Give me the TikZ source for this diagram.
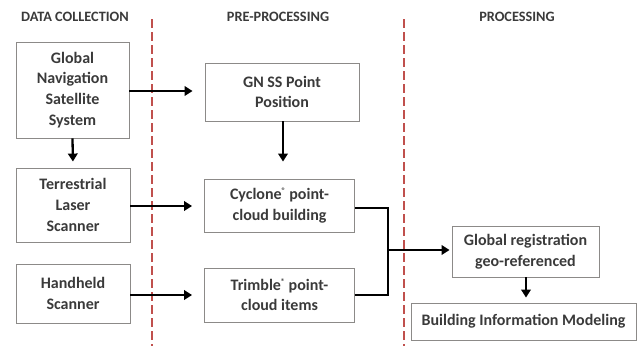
\documentclass[tikz,border=0pt]{standalone}
\usepackage{fontspec}
\setmainfont{Carlito}
\usetikzlibrary{arrows.meta}
\definecolor{txt}{HTML}{3A3A3A}
\definecolor{boxline}{HTML}{8C8A88}
\definecolor{divred}{HTML}{C0504D}
\tikzset{
  box/.style={draw=boxline, line width=0.9pt, text=txt, align=center, inner sep=2pt,
    font=\fontsize{16}{20.8}\selectfont\bfseries},
  head/.style={text=txt, font=\fontsize{14.3}{16}\selectfont\bfseries},
  flow/.style={line width=2.3pt, -{Triangle[length=8pt,width=9.5pt]}},
  link/.style={line width=2.3pt},
  divider/.style={divred, line width=1.8pt, dash pattern=on 9pt off 4pt}
}
\begin{document}
\begin{tikzpicture}[x=1pt,y=-1pt]
\useasboundingbox (0,0) rectangle (644,346);
% headers
\node[head] (h1) at (75,17) {DATA COLLECTION};
\node[head] (h2) at (278,17) {PRE-PROCESSING};
\node[head] (h3) at (517,17) {PROCESSING};
% dividers
\coordinate (d1t) at (152,19); \coordinate (d1b) at (152,346);
\coordinate (d2t) at (404,19); \coordinate (d2b) at (404,346);
\draw[divider] (d1t) -- (d1b);
\draw[divider] (d2t) -- (d2b);
% boxes
\node[box, minimum width=113pt, minimum height=96pt] (gnss) at (72.5,90) {Global\\Navigation\\Satellite\\System};
\node[box, minimum width=154pt, minimum height=58pt] (gpp) at (282,92) {GN SS Point\\Position};
\node[box, minimum width=114pt, minimum height=74pt] (tls) at (73,205) {Terrestrial\\Laser\\Scanner};
\node[box, minimum width=150pt, minimum height=53pt] (cyc) at (279.5,205.5) {Cyclone\raisebox{0.35em}{\fontsize{8}{8}\selectfont®} point-\\cloud building};
\node[box, minimum width=114pt, minimum height=59pt] (hh) at (73,293.5) {Handheld\\Scanner};
\node[box, minimum width=150pt, minimum height=54pt] (trim) at (279.5,295) {Trimble\raisebox{0.35em}{\fontsize{8}{8}\selectfont®} point-\\cloud items};
\node[box, minimum width=147pt, minimum height=51pt] (greg) at (525.5,251.5) {Global registration\\geo-referenced};
\node[box, minimum width=225pt, minimum height=37pt] (bim) at (523.5,321.5) {Building Information Modeling};
% connectors
\draw[flow, shorten >=12pt] (gnss.east |- 0,91) -- (gpp.west |- 0,91);
\draw[flow, shorten >=6pt] (gnss.south) -- (tls.north);
\draw[flow, shorten >=17pt] (gpp.south -| 283,0) -- (cyc.north -| 283,0);
\draw[flow, shorten >=12pt] (tls.east |- 0,206) -- (cyc.west |- 0,206);
\draw[flow, shorten >=12pt] (hh.east |- 0,295) -- (trim.west |- 0,295);
\coordinate (j) at (388,250);
\draw[link] (cyc.east |- 0,208) -| (j);
\draw[link] (trim.east |- 0,295) -| (j);
\draw[flow, shorten >=2pt] (j) -- (greg.west |- j);
\draw[flow, shorten >=5pt] (greg.south -| 526,0) -- (bim.north -| 526,0);
\end{tikzpicture}
\end{document}
